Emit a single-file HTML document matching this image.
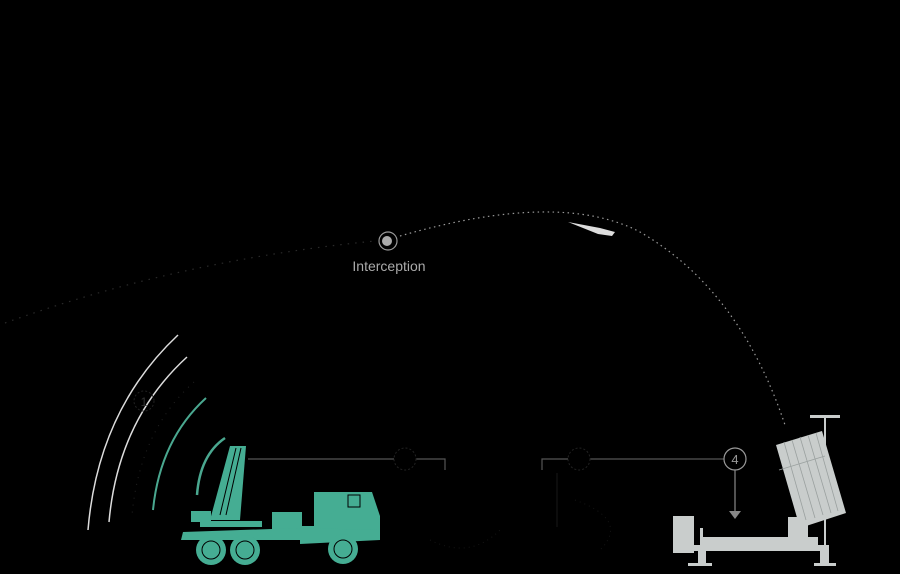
<!DOCTYPE html>
<html><head><meta charset="utf-8"><style>
html,body{margin:0;padding:0;background:#000;}
svg{display:block;}
</style></head><body>
<svg width="900" height="574" viewBox="0 0 900 574" xmlns="http://www.w3.org/2000/svg">
<rect width="900" height="574" fill="#000"/>
<!-- incoming trajectory -->
<path d="M5,323 Q180,260 375,241" fill="none" stroke="#2a2a2a" stroke-width="1.2" stroke-dasharray="1.5 6"/>
<path d="M400,236 Q560,190 640,232 Q740,290 785,425" fill="none" stroke="#999" stroke-width="1.2" stroke-dasharray="1.5 3.5"/>
<!-- interception -->
<circle cx="388" cy="241" r="9" fill="none" stroke="#999" stroke-width="1.2"/>
<circle cx="387" cy="241" r="5" fill="#aaa"/>
<text x="389" y="271" font-family="Liberation Sans, sans-serif" font-size="14" fill="#aaa" text-anchor="middle">Interception</text>
<!-- interceptor missile -->
<path d="M568,222 L600,228 L615,232 L612,236 L598,234 Z" fill="#ddd"/>
<!-- radar arcs -->
<path d="M178,335 Q98,410 88,530" fill="none" stroke="#ddd" stroke-width="1.5"/>
<path d="M187,357 Q118,420 109,522" fill="none" stroke="#ddd" stroke-width="1.5"/>
<path d="M206,398 Q160,440 153,510" fill="none" stroke="#4aa890" stroke-width="2"/>
<path d="M225,438 Q200,455 197,495" fill="none" stroke="#4aa890" stroke-width="2.5"/>
<path d="M194,382 Q140,430 132,515" fill="none" stroke="#222" stroke-width="1" stroke-dasharray="1 6"/>
<circle cx="144" cy="401" r="10" fill="none" stroke="#222" stroke-width="1" stroke-dasharray="2 2"/>
<text x="144" y="406" font-family="Liberation Sans, sans-serif" font-size="12" fill="#333" text-anchor="middle">1</text>
<!-- connectors -->
<path d="M248,459 H445 V470" fill="none" stroke="#555" stroke-width="1.2"/>
<circle cx="405" cy="459" r="11" fill="#000" stroke="#222" stroke-dasharray="2 2"/>
<path d="M542,470 V459 H724" fill="none" stroke="#555" stroke-width="1.2"/>
<path d="M557,473 V527" stroke="#151515" stroke-width="1.2"/>
<circle cx="579" cy="459" r="11" fill="#000" stroke="#222" stroke-dasharray="2 2"/>
<circle cx="735" cy="459" r="11" fill="#000" stroke="#999" stroke-width="1.2"/>
<text x="735" y="464" font-family="Liberation Sans, sans-serif" font-size="13" fill="#999" text-anchor="middle">4</text>
<path d="M735,470 V512" stroke="#888" stroke-width="1.2"/>
<path d="M729,511 L741,511 L735,519 Z" fill="#888"/>
<!-- truck -->
<g fill="#45ad93">
<path d="M210,520 L230,446 L246,446 L240,520 Z"/>
<rect x="191" y="511" width="20" height="11"/>
<rect x="200" y="521" width="62" height="6"/>
<rect x="272" y="512" width="30" height="17"/>
<rect x="314" y="492" width="46" height="34"/>
<path d="M360,492 L372,492 L380,516 L380,540 L300,544 L300,526 L314,526 Z"/>
<path d="M181,540 L183,532 L300,528 L378,530 L378,540 Z"/>
<circle cx="211" cy="550" r="15"/>
<circle cx="245" cy="550" r="15"/>
<circle cx="343" cy="549" r="15"/>
</g>
<g fill="none" stroke="#000" stroke-width="1">
<circle cx="211" cy="550" r="9"/><circle cx="245" cy="550" r="9"/><circle cx="343" cy="549" r="9"/>
<rect x="348" y="495" width="12" height="12"/>
<path d="M220,515 L236,448 M226,515 L241,448"/>
</g>
<!-- faint objects -->
<path d="M430,540 Q470,560 500,530 M575,500 Q630,520 600,550" fill="none" stroke="#141414" stroke-dasharray="1 4"/>
<!-- iron dome launcher -->
<g fill="#c9cdcc">
<rect x="673" y="516" width="21" height="37"/>
<rect x="700" y="537" width="118" height="10"/>
<rect x="691" y="545" width="135" height="6"/>
<rect x="698" y="548" width="8" height="17"/>
<rect x="820" y="545" width="9" height="19"/>
<rect x="688" y="563" width="24" height="3"/>
<rect x="814" y="563" width="22" height="3"/>
<rect x="700" y="528" width="3" height="16"/>
<rect x="788" y="517" width="20" height="22"/>
<path d="M776,445 L822,431 L846,513 L800,528 Z"/>
<rect x="824" y="416" width="2" height="134"/>
<rect x="810" y="415" width="30" height="3"/>
</g>
<path d="M784,442 L806,520 M792,440 L815,518 M800,437 L823,515 M808,435 L831,513 M816,433 L838,511 M779,470 L825,456" stroke="#9aa09f" stroke-width="0.8" fill="none"/>
</svg>
</body></html>
